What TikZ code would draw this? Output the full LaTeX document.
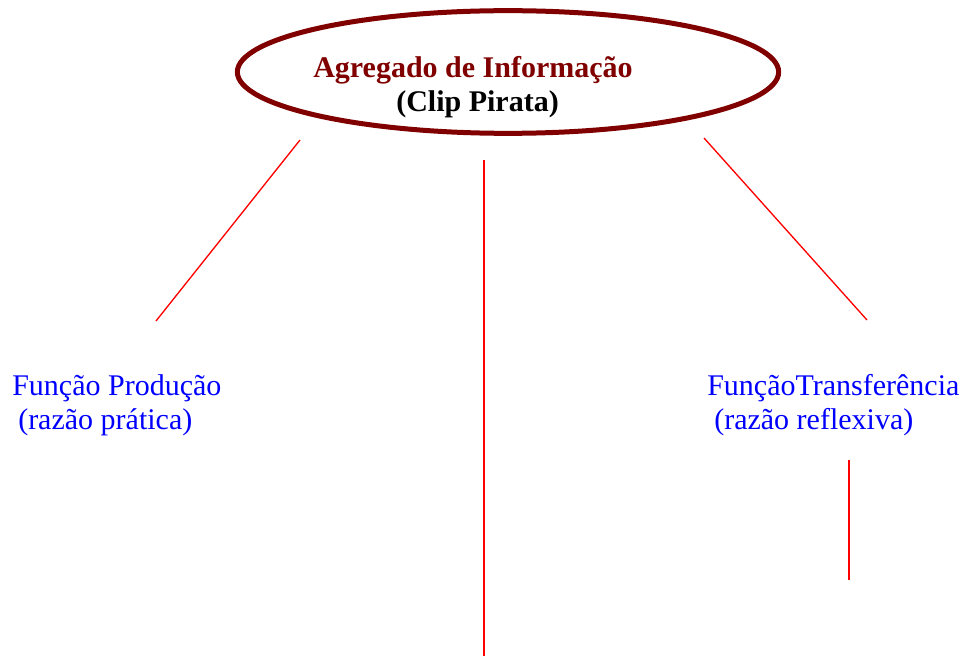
\documentclass[tikz,border=0pt]{standalone}
\usepackage{fontspec}
\setmainfont{Liberation Serif}
\usetikzlibrary{shapes.geometric}
\definecolor{darkred}{RGB}{128,0,0}
\definecolor{pureblue}{RGB}{0,0,255}
\definecolor{purered}{RGB}{255,0,0}
\begin{document}
\begin{tikzpicture}[x=0.75pt,y=-0.75pt,
  txt/.style={inner sep=0pt,anchor=base west,font=\fontsize{22.5}{27}\selectfont},
  ttl/.style={txt,font=\fontsize{22.5}{27}\selectfont\bfseries},
  link/.style={draw=purered,line width=1pt}]
\useasboundingbox (0,0) rectangle (967,656);
\node[ellipse,draw=darkred,line width=3.75pt,inner sep=0pt,minimum width=406pt,minimum height=92pt] (agg) at (508,72) {};
\node[ttl,text=darkred] (t1) at (313,78) {Agregado de Informação};
\node[ttl,text=black] (t2) at (396,112) {(Clip Pirata)};
\node[txt,text=pureblue] (p1) at (12,395) {Função Produção};
\node[txt,text=pureblue] (p2) at (18,429) {(razão prática)};
\node[txt,text=pureblue] (r1) at (707,395) {FunçãoTransferência};
\node[txt,text=pureblue] (r2) at (714,429) {(razão reflexiva)};
\coordinate (a1) at (300,140);
\coordinate (a2) at (156,321);
\coordinate (b1) at (484,160);
\coordinate (b2) at (484,656);
\coordinate (c1) at (704,138);
\coordinate (c2) at (867,320);
\coordinate (d1) at (849,460);
\coordinate (d2) at (849,580);
\draw[link] (a1) -- (a2);
\draw[link] (b1) -- (b2);
\draw[link] (c1) -- (c2);
\draw[link] (d1) -- (d2);
\end{tikzpicture}
\end{document}
